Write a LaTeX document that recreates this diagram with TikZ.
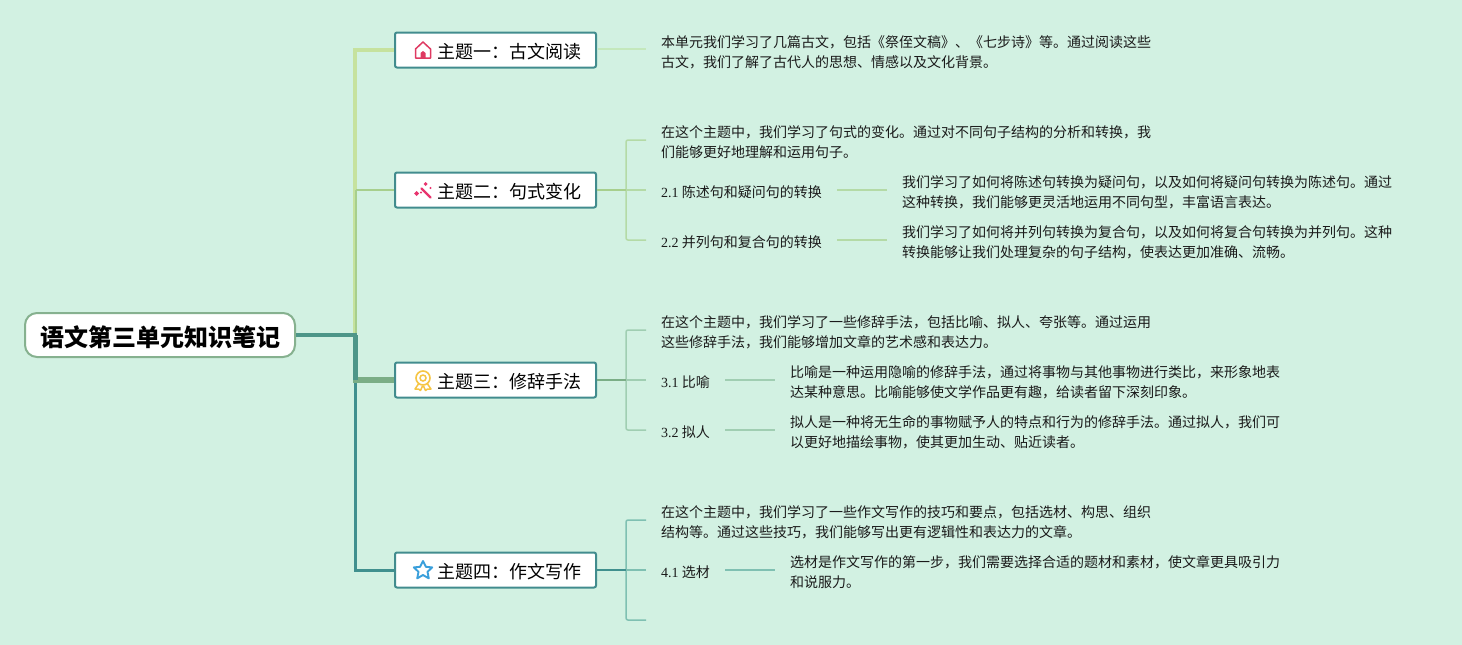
\documentclass[tikz,border=0pt]{standalone}
\usepackage{fontspec}
\usetikzlibrary{calc}
\setmainfont{Noto Sans CJK SC}
\newfontfamily\lat{Liberation Serif}
\definecolor{bgc}{HTML}{D2F1E2}
\definecolor{ink}{HTML}{1A1A1A}
\definecolor{boxb}{HTML}{428C8E}
\definecolor{rootb}{HTML}{86B18F}
\definecolor{ca}{HTML}{C6E29E}
\definecolor{cb}{HTML}{A7CF8D}
\definecolor{cc}{HTML}{7BAE86}
\definecolor{cd}{HTML}{40908E}
\definecolor{ce}{HTML}{4D9688}
\definecolor{la}{HTML}{C4E8BC}
\definecolor{lb}{HTML}{B4DAA6}
\definecolor{lc}{HTML}{A0CEB2}
\definecolor{ld}{HTML}{7FC0B2}
\definecolor{ired}{HTML}{DF3A62}
\definecolor{ipink}{HTML}{E8346E}
\definecolor{iyel}{HTML}{F6C544}
\definecolor{iblue}{HTML}{3A9FDB}
\tikzset{
  x=1pt,y=-1pt,
  rootbox/.style={draw=rootb,line width=2pt,fill=white,rounded corners=12pt,minimum width=270pt,minimum height=44pt,inner sep=0pt},
  rootlabel/.style={inner sep=0pt,text=black,font=\fontsize{24}{28}\selectfont\bfseries},
  topic/.style={draw=boxb,line width=2pt,fill=white,rounded corners=2pt,minimum width=201pt,minimum height=35pt,inner sep=0pt},
  topiclabel/.style={anchor=west,inner sep=0pt,text=black,font=\fontsize{18}{22}\selectfont},
  para/.style={anchor=west,inner sep=0pt,align=left,text=ink,font=\fontsize{14}{20}\selectfont},
  branch/.style={line width=1.5pt,rounded corners=2pt},
}
\begin{document}
\begin{tikzpicture}
\useasboundingbox (0,0) rectangle (1462,645);
\fill[bgc] (0,0) rectangle (1462,645);

% main nodes
\node[rootbox] (root) at (160,335) {};
\node[rootlabel] (rootl) at (160.5,337) {语文第三单元知识笔记};
\node[topic] (t1) at (495.5,50) {};
\node[topic] (t2) at (495.5,190) {};
\node[topic] (t3) at (495.5,380) {};
\node[topic] (t4) at (495.5,570) {};
\node[topiclabel] (t1l) at (437.3,52) {主题一：古文阅读};
\node[topiclabel] (t2l) at (437.3,192) {主题二：句式变化};
\node[topiclabel] (t3l) at (437.3,382) {主题三：修辞手法};
\node[topiclabel] (t4l) at (437.3,572) {主题四：作文写作};

\coordinate (hub) at (355,335);

% trunk connectors
\draw[ca,line width=4.5pt,line join=miter] (hub) -- (hub |- t1.west) -- (t1.west);
\draw[cb,line width=2pt] (356,190) -- (t2.west);
\draw[cb,line width=1.8pt] (hub |- t2.west) ++(1.2,0) -- ++(0,145);
\draw[cd,line width=3pt,line join=miter] (hub) -- (hub |- t4.west) -- (t4.west);
\draw[cc,line width=5.5pt] (hub |- t3.west) ++(-2,0) -- (t3.west);
\draw[ce,line width=5pt] (hub) -- (hub |- t3.west);
\draw[ce,line width=4pt] (root.east) -- ($(hub)+(2.4,0)$);

% Text nodes: theme 1
\node[para] (p1) at (661,52) {本单元我们学习了几篇古文，包括《祭侄文稿》、《七步诗》等。通过阅读这些\\古文，我们了解了古代人的思想、情感以及文化背景。};
% theme 2
\node[para] (p2) at (661,142) {在这个主题中，我们学习了句式的变化。通过对不同句子结构的分析和转换，我\\们能够更好地理解和运用句子。};
\node[para] (s21) at (661,192) {{\lat 2.1} 陈述句和疑问句的转换};
\node[para] (s22) at (661,242) {{\lat 2.2} 并列句和复合句的转换};
\node[para] (d21) at (902,192) {我们学习了如何将陈述句转换为疑问句，以及如何将疑问句转换为陈述句。通过\\这种转换，我们能够更灵活地运用不同句型，丰富语言表达。};
\node[para] (d22) at (902,242) {我们学习了如何将并列句转换为复合句，以及如何将复合句转换为并列句。这种\\转换能够让我们处理复杂的句子结构，使表达更加准确、流畅。};
% theme 3
\node[para] (p3) at (661,332) {在这个主题中，我们学习了一些修辞手法，包括比喻、拟人、夸张等。通过运用\\这些修辞手法，我们能够增加文章的艺术感和表达力。};
\node[para] (s31) at (661,382) {{\lat 3.1} 比喻};
\node[para] (s32) at (661,432) {{\lat 3.2} 拟人};
\node[para] (d31) at (790,382) {比喻是一种运用隐喻的修辞手法，通过将事物与其他事物进行类比，来形象地表\\达某种意思。比喻能够使文学作品更有趣，给读者留下深刻印象。};
\node[para] (d32) at (790,432) {拟人是一种将无生命的事物赋予人的特点和行为的修辞手法。通过拟人，我们可\\以更好地描绘事物，使其更加生动、贴近读者。};
% theme 4
\node[para] (p4) at (661,522) {在这个主题中，我们学习了一些作文写作的技巧和要点，包括选材、构思、组织\\结构等。通过这些技巧，我们能够写出更有逻辑性和表达力的文章。};
\node[para] (s41) at (661,572) {{\lat 4.1} 选材};
\node[para] (d41) at (790,572) {选材是作文写作的第一步，我们需要选择合适的题材和素材，使文章更具吸引力\\和说服力。};

% connector ends
\coordinate (e1) at (646,49);
\coordinate (j2) at (626,190);
\coordinate (a2) at (646,140);
\coordinate (b2) at (646,190);
\coordinate (c2) at (646,240);
\coordinate (j3) at (626,380);
\coordinate (a3) at (646,330);
\coordinate (b3) at (646,380);
\coordinate (c3) at (646,430);
\coordinate (j4) at (626,570);
\coordinate (a4) at (646,520);
\coordinate (b4) at (646,570);
\coordinate (c4) at (646,620);
\coordinate (f21) at (837,190);
\coordinate (g21) at (887,190);
\coordinate (f22) at (837,240);
\coordinate (g22) at (887,240);
\coordinate (f31) at (725,380);
\coordinate (g31) at (775,380);
\coordinate (f32) at (725,430);
\coordinate (g32) at (775,430);
\coordinate (f41) at (725,570);
\coordinate (g41) at (775,570);

\draw[la,line width=1.5pt] (t1.east) ++(1,-1) -- (e1);

\draw[lb,branch] (a2) -- (j2 |- a2) -- (j2 |- c2) -- (c2);
\draw[lb,line width=1.5pt] (j2) -- (b2);
\draw[cb,line width=2pt] (t2.east) -- (j2);
\draw[lb,line width=1.5pt] (f21) -- (g21);
\draw[lb,line width=1.5pt] (f22) -- (g22);

\draw[lc,branch] (a3) -- (j3 |- a3) -- (j3 |- c3) -- (c3);
\draw[lc,line width=1.5pt] (j3) -- (b3);
\draw[cc,line width=2pt] (t3.east) -- (j3);
\draw[lc,line width=1.5pt] (f31) -- (g31);
\draw[lc,line width=1.5pt] (f32) -- (g32);

\draw[ld,branch] (a4) -- (j4 |- a4) -- (j4 |- c4) -- (c4);
\draw[ld,line width=1.5pt] (j4) -- (b4);
\draw[cd,line width=2pt] (t4.east) -- (j4);
\draw[ld,line width=1.5pt] (f41) -- (g41);

% icons
\begin{scope}[shift={(423,50)}]
 \draw[ired,line width=1.5pt,line join=round,line cap=round] (-7.5,-1) -- (0,-8) -- (7.5,-1) -- (7.5,8) -- (-7.5,8) -- cycle;
 \fill[ired] (-2.5,8) -- (-2.5,3) -- (0,1) -- (2.5,3) -- (2.5,8) -- cycle;
\end{scope}
\begin{scope}[shift={(423,190)}]
 \draw[ipink,line width=2.2pt,line cap=round] (-1.5,-1.5) -- (7.5,7.5);
 \fill[ipink] (2.5,-8) -- (4.5,-6) -- (2.5,-4) -- (0.5,-6) -- cycle;
 \fill[ipink] (-6.5,1) -- (-4,3.5) -- (-6.5,6) -- (-9,3.5) -- cycle;
 \fill[ipink] (-2,2.5) circle[radius=1.1pt];
 \fill[ipink] (7.5,-2) circle[radius=1.1pt];
\end{scope}
\begin{scope}[shift={(423,380)}]
 \draw[iyel,line width=1.6pt] (0,-2) circle[radius=7pt];
 \draw[iyel,line width=1.5pt] (0,-2) circle[radius=3pt];
 \draw[iyel,line width=1.5pt,line join=round] (-4.5,4) -- (-8,9) -- (-4.5,9) -- (-2.5,10.5) -- (-.5,6);
 \draw[iyel,line width=1.5pt,line join=round] (4.5,4) -- (8,9) -- (4.5,9) -- (2.5,10.5) -- (.5,6);
\end{scope}
\begin{scope}[shift={(423,570)}]
 \draw[iblue,line width=1.9pt,line join=round]
  (0,-9) -- (2.9,-3.2) -- (9.2,-2.6) -- (4.5,1.8) -- (5.8,8.4) -- (0,5) -- (-5.8,8.4) -- (-4.5,1.8) -- (-9.2,-2.6) -- (-2.9,-3.2) -- cycle;
\end{scope}
\end{tikzpicture}
\end{document}
